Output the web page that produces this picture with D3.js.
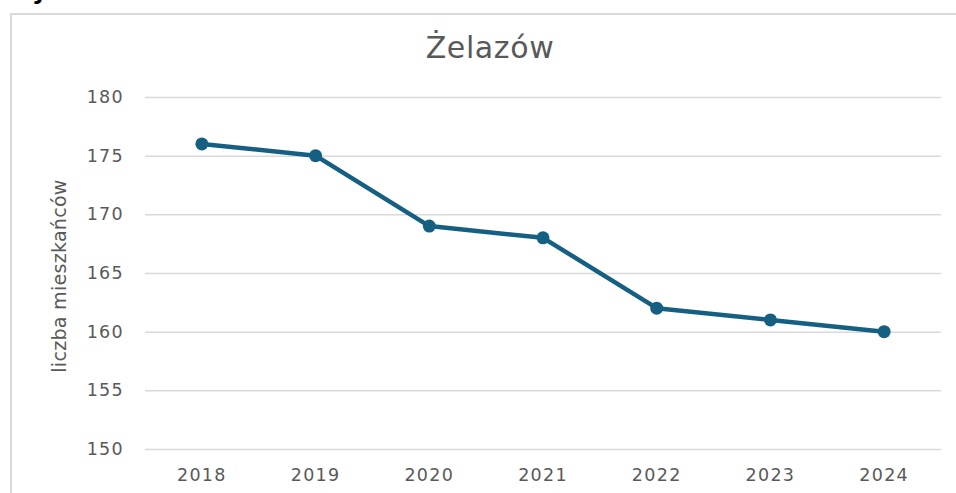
<!DOCTYPE html>
<html>
<head>
<meta charset="utf-8">
<script src="https://cdn.jsdelivr.net/npm/d3@7"></script>
<style>
  body { margin: 0; background: #fff; }
  svg { display: block; font-family: "DejaVu Sans", Arial, sans-serif; }
</style>
</head>
<body>
<div id="chart"></div>
<script>
// data
var years = ["2018", "2019", "2020", "2021", "2022", "2023", "2024"];
var residents = [176, 175, 169, 168, 162, 161, 160];
var yTicks = [150, 155, 160, 165, 170, 175, 180];

var width = 956, height = 493;
var plotLeft = 145, plotRight = 941, plotTop = 97, plotBottom = 449;
var labelFont = "DejaVu Sans, Arial, sans-serif";

var svg = d3.select("#chart").append("svg")
  .attr("width", width)
  .attr("height", height);

// cut-off text from above the chart
svg.append("text")
  .attr("x", 32).attr("y", -1)
  .attr("font-size", 24).attr("font-weight", "bold")
  .attr("fill", "#000")
  .text("y");

// chart frame (cropped at right and bottom)
svg.append("rect")
  .attr("x", 11).attr("y", 14)
  .attr("width", 960).attr("height", 500)
  .attr("fill", "none")
  .attr("stroke", "#d9d9d9")
  .attr("stroke-width", 2);

var x = d3.scaleBand().domain(years).range([plotLeft, plotRight]);
var y = d3.scaleLinear().domain([150, 180]).range([plotBottom, plotTop]);

// gridlines + y labels
var yAxis = svg.append("g")
  .attr("transform", "translate(" + plotLeft + ",0)")
  .call(d3.axisLeft(y).tickValues(yTicks).tickSize(-(plotRight - plotLeft)).tickPadding(21));
yAxis.select(".domain").remove();
yAxis.selectAll(".tick line").attr("stroke", "#d9d9d9").attr("stroke-width", 1.5);
yAxis.selectAll(".tick text")
  .attr("fill", "#595959")
  .attr("font-size", 17.5)
  .attr("letter-spacing", 1.3)
  .attr("font-family", labelFont);

// x labels
var xAxis = svg.append("g")
  .attr("transform", "translate(0," + plotBottom + ")")
  .call(d3.axisBottom(x).tickSize(0).tickPadding(20));
xAxis.select(".domain").remove();
xAxis.selectAll(".tick text")
  .attr("fill", "#595959")
  .attr("font-size", 17.5)
  .attr("letter-spacing", 1.3)
  .attr("font-family", labelFont);

// title
svg.append("text")
  .attr("x", 490).attr("y", 58)
  .attr("text-anchor", "middle")
  .attr("fill", "#595959")
  .attr("font-size", 30)
  .attr("letter-spacing", 0.6)
  .text("Żelazów");

// y axis title
svg.append("text")
  .attr("text-anchor", "middle")
  .attr("transform", "translate(66,276)rotate(-90)")
  .attr("fill", "#595959")
  .attr("font-size", 19)
  .attr("letter-spacing", 0.3)
  .text("liczba mieszkańców");

var pts = years.map(function(d, i) { return { year: d, value: residents[i] }; });

var line = d3.line()
  .x(function(d) { return x(d.year) + x.bandwidth() / 2; })
  .y(function(d) { return y(d.value); });

svg.append("path")
  .datum(pts)
  .attr("d", line)
  .attr("fill", "none")
  .attr("stroke", "#156082")
  .attr("stroke-width", 4.5)
  .attr("stroke-linejoin", "round");

svg.selectAll("circle.pt")
  .data(pts)
  .enter().append("circle")
  .attr("class", "pt")
  .attr("cx", function(d) { return x(d.year) + x.bandwidth() / 2; })
  .attr("cy", function(d) { return y(d.value); })
  .attr("r", 6.5)
  .attr("fill", "#156082");
</script>
</body>
</html>
